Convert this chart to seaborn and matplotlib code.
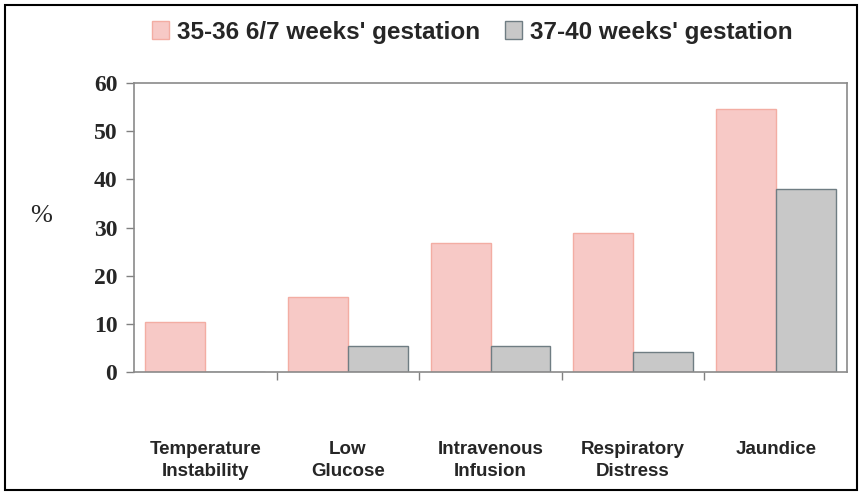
import pandas as pd
import matplotlib.pyplot as plt
import seaborn as sns
from matplotlib.patches import Rectangle, Patch

# 数据
categories = ['Temperature\nInstability', 'Low\nGlucose', 'Intravenous\nInfusion',
              'Respiratory\nDistress', 'Jaundice']
late_preterm = [10.3, 15.6, 26.8, 28.9, 54.5]
term = [0, 5.4, 5.4, 4.2, 37.9]
groups = ["35-36 6/7 weeks' gestation", "37-40 weeks' gestation"]

df = pd.DataFrame({
    'cat': categories * 2,
    'val': late_preterm + term,
    'grp': [groups[0]] * 5 + [groups[1]] * 5,
})

sns.set_style('white')
plt.rcParams['font.family'] = ['Liberation Sans', 'DejaVu Sans']

fig, ax = plt.subplots(figsize=(8.62, 5.0), dpi=100)
fig.subplots_adjust(left=134/862, right=847/862, top=1-83/500, bottom=1-372/500)

pal = {groups[0]: '#F7C9C6', groups[1]: '#C8C8C8'}
sns.barplot(data=df, x='cat', y='val', hue='grp', palette=pal, width=0.84,
            saturation=1, legend=False, ax=ax)

edges = ['#F3ADA3', '#6F7D83']
for cont, ec in zip(ax.containers, edges):
    for bar in cont:
        bar.set_edgecolor(ec)
        bar.set_linewidth(1.0)

ax.set_ylim(0, 60)
ax.set_xlim(-0.5, 4.5)
ax.set_yticks(range(0, 61, 10))
ax.set_yticklabels([str(v) for v in range(0, 61, 10)], family='Liberation Serif',
                   fontweight='bold', fontsize=17)
ax.tick_params(axis='y', direction='out', length=6, width=1, color='#808080', pad=6, left=True)

ax.set_xticks(range(5))
ax.set_xticklabels(categories, fontweight='bold', fontsize=13.5, linespacing=1.35)
ax.tick_params(axis='x', length=0, pad=50)
ax.set_xticks([0.5, 1.5, 2.5, 3.5], minor=True)
ax.tick_params(axis='x', which='minor', direction='out', length=6, width=1,
               color='#808080', bottom=True)

for s in ax.spines.values():
    s.set_visible(True)
    s.set_color('#8A8A8A')
    s.set_linewidth(1.2)

ax.set_xlabel('')
ax.set_ylabel('%', family='Liberation Serif', fontsize=19, rotation=0)
ax.yaxis.set_label_coords(-0.13, 0.5)

handles = [Patch(facecolor=pal[g], edgecolor=e, label=g) for g, e in zip(groups, edges)]
fig.legend(handles=handles, loc='center', bbox_to_anchor=(0.548, 0.936), ncol=2,
           frameon=False, prop={'weight': 'bold', 'size': 17.5},
           handlelength=0.7, handleheight=0.7, handletextpad=0.35, columnspacing=1.0)

fig.patches.append(Rectangle((5/862, 1-490/500), 852/862, 485/500, transform=fig.transFigure,
                             fill=False, edgecolor='black', linewidth=1.5))

plt.savefig('out.png', dpi=100)
